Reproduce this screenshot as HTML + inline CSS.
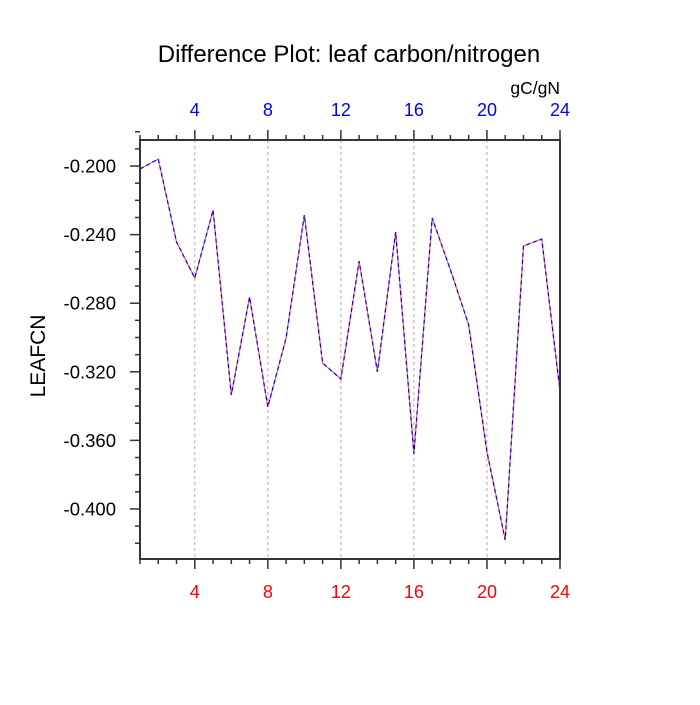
<!DOCTYPE html>
<html><head><meta charset="utf-8"><style>
body{margin:0;background:#fff;font-family:"Liberation Sans",sans-serif;}
</style></head><body>
<svg id="chart" width="700" height="700" xmlns="http://www.w3.org/2000/svg">
<text x="349" y="62" text-anchor="middle" font-size="24">Difference Plot: leaf carbon/nitrogen</text>
<text x="560" y="94" text-anchor="end" font-size="17.5">gC/gN</text>
<text transform="translate(45,356) rotate(-90)" text-anchor="middle" font-size="21">LEAFCN</text>
<g id="grid"></g><g id="ticks"></g><g id="series"></g>
<rect x="140" y="140" width="420" height="419" fill="none" stroke="#333" stroke-width="2"/>
</svg>
<script>
const xs=[1,2,3,4,5,6,7,8,9,10,11,12,13,14,15,16,17,18,19,20,21,22,23,24];
const vals=[-0.2017,-0.1959,-0.2443,-0.2653,-0.2257,-0.3335,-0.2764,-0.3405,-0.3003,-0.2286,-0.3149,-0.3242,-0.2554,-0.3201,-0.2385,-0.3679,-0.2303,-0.2606,-0.2927,-0.3668,-0.4181,-0.2466,-0.2426,-0.3312];
const xTicks=[4,8,12,16,20,24];
const yTicks=[-0.2,-0.24,-0.28,-0.32,-0.36,-0.4];
const yLabels=["-0.200","-0.240","-0.280","-0.320","-0.360","-0.400"];
const X0=140,X1=560,Y0=140,Y1=559,xmin=1,xmax=24,ymax=-0.1848,ymin=-0.4292;
const sx=v=>X0+(v-xmin)/(xmax-xmin)*(X1-X0);
const sy=v=>Y0+(ymax-v)/(ymax-ymin)*(Y1-Y0);
const NS="http://www.w3.org/2000/svg";
function mk(t,a,p){const e=document.createElementNS(NS,t);for(const k in a)e.setAttribute(k,a[k]);p.appendChild(e);return e;}
const g=document.getElementById('grid'),tk=document.getElementById('ticks'),sr=document.getElementById('series');
for(let i=1;i<=24;i++){const x=sx(i);const maj=i%4===0;
 mk('line',{x1:x,x2:x,y1:Y0,y2:Y0-(maj?10:5),stroke:'#333','stroke-width':1.5},tk);
 mk('line',{x1:x,x2:x,y1:Y1,y2:Y1+(maj?10:5),stroke:'#333','stroke-width':1.5},tk);}
xTicks.forEach(v=>{const x=sx(v);
 if(v<24){const l=mk('line',{x1:x,x2:x,y1:Y0,y2:Y1,stroke:'#aaa','stroke-width':1,'stroke-dasharray':'3,3'},g);
 }
 const t=mk('text',{x:x,y:116,'text-anchor':'middle','font-size':18,fill:'#0000ff'},tk);t.textContent=v;
 
 const b=mk('text',{x:x,y:598,'text-anchor':'middle','font-size':18,fill:'#ff0000'},tk);b.textContent=v;
 });
for(let k=-18;k>=-42;k--){const v=k/100;const y=sy(v);const maj=(k%4===0);
 mk('line',{x1:X0,x2:X0-(maj?10:5),y1:y,y2:y,stroke:'#333','stroke-width':1.5},tk);}
yTicks.forEach((v,i)=>{const t=mk('text',{x:116,y:sy(v)+6.5,'text-anchor':'end','font-size':18.5},tk);t.textContent=yLabels[i];
 });
const pts=xs.map((x,i)=>sx(x)+','+sy(vals[i])).join(' ');
const r=mk('polyline',{points:pts,fill:'none',stroke:'#ff6060','stroke-width':1.2},sr);

const b=mk('polyline',{points:pts,fill:'none',stroke:'#0000ff','stroke-width':1.2,'stroke-dasharray':'4,3'},sr);

</script>
</body></html>
